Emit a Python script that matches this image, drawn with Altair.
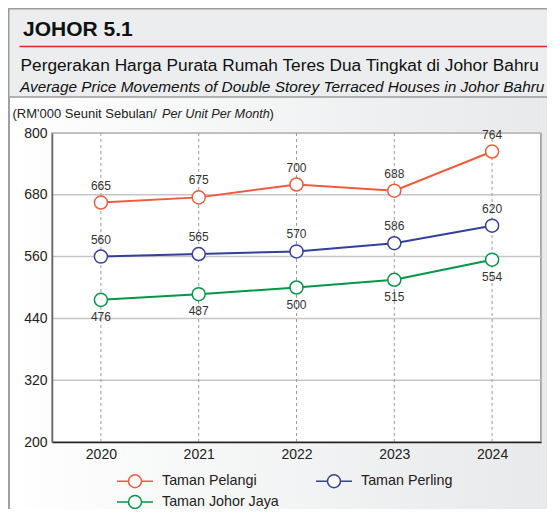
import altair as alt
import pandas as pd

years = ["2020", "2021", "2022", "2023", "2024"]
series_names = ["Taman Pelangi", "Taman Perling", "Taman Johor Jaya"]
pelangi = [665, 675, 700, 688, 764]
perling = [560, 565, 570, 586, 620]
johor_jaya = [476, 487, 500, 515, 554]
label_side = ["above", "above", "below"]
series_colors = ["#f15a3d", "#34409a", "#059647"]
y_ticks = [200, 320, 440, 560, 680, 800]

title_text = "JOHOR 5.1"
subtitle_my = "Pergerakan Harga Purata Rumah Teres Dua Tingkat di Johor Bahru"
subtitle_en = "Average Price Movements of Double Storey Terraced Houses in Johor Bahru"
unit_my = "(RM'000 Seunit Sebulan/"
unit_en = "Per Unit Per Month"
unit_close = ")"

rows = []
for name, vals, side in zip(series_names, [pelangi, perling, johor_jaya], label_side):
    for yr, v in zip(years, vals):
        rows.append({"year": yr, "series": name, "value": v, "side": side})
df = pd.DataFrame(rows)

W, H = 489, 309
PAD_B = 67
FONT = "Liberation Sans"
one = pd.DataFrame({"k": [0]})

# body box (local coords relative to plot origin)
BX0, BX1, BY0, BY1 = -44, 495, -36, H + PAD_B


def strip(x0, x1, y0, y1):
    gx1 = (BX0 - x0) / (x1 - x0)
    gx2 = (BX1 - x0) / (x1 - x0)
    grad = alt.LinearGradient(
        gradient="linear", x1=gx1, x2=gx2, y1=0, y2=0,
        stops=[alt.GradientStop(offset=0, color="#ffffff"),
               alt.GradientStop(offset=1, color="#e7e9ea")])
    return alt.Chart(one).mark_rect(fill=grad, strokeWidth=0).encode(
        x=alt.value(x0), x2=alt.value(x1), y=alt.value(y0), y2=alt.value(y1))


bg = [
    strip(BX0, -0.8, BY0, BY1),
    strip(W + 0.8, BX1, BY0, BY1),
    strip(-0.8, W + 0.8, BY0, -0.8),
    strip(-0.8, W + 0.8, H + 0.8, BY1),
]

header = alt.Chart(one).mark_rect(fill="#ebedee", stroke="#9c9c9c", strokeWidth=1.5).encode(
    x=alt.value(-43.25), x2=alt.value(520), y=alt.value(-124.25), y2=alt.value(-36))
left_border = alt.Chart(one).mark_rule(color="#a0a0a0", strokeWidth=2).encode(
    x=alt.value(-43), y=alt.value(-36), y2=alt.value(BY1))
red_line = alt.Chart(one).mark_rule(color="#e8202a", strokeWidth=1.5).encode(
    x=alt.value(-32.5), x2=alt.value(496), y=alt.value(-86.5))

t_title = alt.Chart(one).mark_text(text=title_text, font=FONT, fontSize=21, fontWeight="bold",
                                   align="left", baseline="alphabetic", color="#111").encode(
    x=alt.value(-29), y=alt.value(-97.5))
t_sub1 = alt.Chart(one).mark_text(text=subtitle_my, font=FONT, fontSize=17.3,
                                  align="left", baseline="alphabetic", color="#111").encode(
    x=alt.value(-31.5), y=alt.value(-62))
t_sub2 = alt.Chart(one).mark_text(text=subtitle_en, font=FONT, fontSize=15.4, fontStyle="italic",
                                  align="left", baseline="alphabetic", color="#111").encode(
    x=alt.value(-32), y=alt.value(-41.5))
t_unit1 = alt.Chart(one).mark_text(text=unit_my, font=FONT, fontSize=13,
                                   align="left", baseline="alphabetic", color="#222").encode(
    x=alt.value(-39.5), y=alt.value(-15))
t_unit2 = alt.Chart(one).mark_text(text=unit_en, font=FONT, fontSize=12.7, fontStyle="italic",
                                   align="left", baseline="alphabetic", color="#222").encode(
    x=alt.value(110), y=alt.value(-15))
t_unit3 = alt.Chart(one).mark_text(text=unit_close, font=FONT, fontSize=13,
                                   align="left", baseline="alphabetic", color="#222").encode(
    x=alt.value(217.5), y=alt.value(-15))

x_scale = alt.Scale(type="point", domain=years, padding=0.5)
y_scale = alt.Scale(domain=[200, 800], nice=False, zero=False)
x_axis = alt.Axis(title=None, labelAngle=0, ticks=False, grid=False, zindex=1,
                  domainColor="#222222", domainWidth=1.5,
                  labelFontSize=14, labelColor="#222222", labelPadding=5, labelFont=FONT)
y_axis = alt.Axis(title=None, values=y_ticks, ticks=False, grid=False, zindex=1,
                  domainColor="#666666", domainWidth=1.5,
                  labelFontSize=14, labelColor="#222222", labelPadding=5, labelFont=FONT)


def xe(field="year"):
    return alt.X(f"{field}:O", scale=x_scale, axis=x_axis, sort=years)


def ye(field="value"):
    return alt.Y(f"{field}:Q", scale=y_scale, axis=y_axis)


hgrid = alt.Chart(pd.DataFrame({"value": y_ticks})).mark_rule(
    color="#c6c6c6", strokeWidth=1.5).encode(y=ye())
vgrid = alt.Chart(pd.DataFrame({"year": years})).mark_rule(
    color="#9c9c9c", strokeWidth=1, strokeDash=[3, 3]).encode(x=xe())

sym_path = "M-2,0L-0.72,0M0.72,0L2,0M0.72,0A0.72,0.72,0,1,1,-0.72,0A0.72,0.72,0,1,1,0.72,0Z"
color_enc = alt.Color(
    "series:N", scale=alt.Scale(domain=series_names, range=series_colors),
    legend=alt.Legend(title=None, orient="none", legendX=73, legendY=338,
                      direction="horizontal", columns=2, symbolType=sym_path, symbolSize=324,
                      symbolStrokeWidth=1.5, symbolFillColor="white",
                      symbolOpacity=1, labelFontSize=14.3, labelFont=FONT,
                      labelColor="#222222", labelOffset=17, columnPadding=34,
                      rowPadding=1, zindex=1))

base = alt.Chart(df)
lines = base.mark_line(strokeWidth=2).encode(x=xe(), y=ye(), color=color_enc)
points = base.mark_point(shape="circle", filled=False, fill="white", size=170, strokeWidth=1.5,
                         opacity=1, fillOpacity=1).encode(x=xe(), y=ye(), color=color_enc)

labels_above = base.transform_filter(alt.datum.side == "above").mark_text(
    dy=-17, font=FONT, fontSize=12, color="#333333").encode(
    x=xe(), y=ye(), text="value:Q")
labels_below = base.transform_filter(alt.datum.side == "below").mark_text(
    dy=17, font=FONT, fontSize=12, color="#333333").encode(
    x=xe(), y=ye(), text="value:Q")

chart = alt.layer(
    *bg, header, left_border, red_line, t_title, t_sub1, t_sub2, t_unit1, t_unit2, t_unit3,
    hgrid, vgrid, lines, points, labels_above, labels_below
).properties(
    width=W, height=H,
    autosize=alt.AutoSizeParams(type="none"),
    padding={"left": 44, "top": 125, "right": 6, "bottom": PAD_B},
    background="white",
).configure_view(fill="white", stroke="#888888", strokeWidth=1.5)

chart.save("out.html", embed_options={"renderer": "svg", "actions": False})
